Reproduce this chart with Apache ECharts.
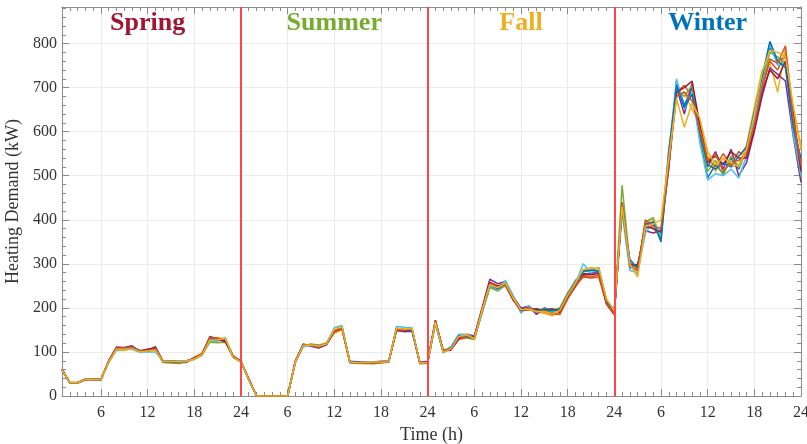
<!DOCTYPE html>
<html>
<head>
<meta charset="utf-8">
<script src="https://cdn.jsdelivr.net/npm/echarts@6/dist/echarts.min.js"></script>
<style>
  html, body { margin: 0; padding: 0; background: #ffffff; }
  #chart { width: 807px; height: 444px; }
</style>
</head>
<body>
<div id="chart"></div>
<script>
// Hourly heating demand (kW) for ten scenarios, one typical day per season.
const spring = [
  [60, 30, 30, 38, 38, 37, 78, 108, 108, 110, 103, 104, 106, 79, 78, 77, 79, 85, 94, 128, 126, 128, 88, 79],
  [59, 30, 29, 37, 38, 36, 80, 110, 105, 112, 101, 105, 110, 78, 76, 76, 77, 86, 96, 132, 130, 125, 90, 78],
  [60, 31, 30, 38, 37, 37, 77, 104, 103, 107, 100, 104, 108, 79, 77, 75, 76, 88, 97, 131, 132, 130, 88, 80],
  [61, 30, 30, 39, 38, 38, 79, 111, 110, 114, 102, 103, 112, 77, 80, 79, 80, 85, 95, 135, 130, 126, 91, 77],
  [60, 29, 31, 38, 39, 37, 76, 106, 107, 109, 104, 102, 105, 76, 75, 74, 78, 86, 93, 122, 121, 122, 89, 80],
  [59, 30, 30, 38, 38, 37, 77, 104, 106, 106, 99, 100, 100, 80, 79, 79, 80, 83, 92, 125, 124, 133, 87, 77],
  [60, 30, 30, 37, 38, 37, 79, 109, 107, 111, 102, 106, 109, 78, 78, 76, 77, 87, 95, 130, 128, 123, 90, 79],
  [60, 30, 30, 38, 38, 37, 78, 107, 108, 110, 103, 102, 106, 78, 79, 78, 78, 84, 94, 129, 129, 128, 89, 78],
  [61, 31, 30, 38, 37, 38, 79, 109, 109, 111, 102, 103, 108, 79, 78, 77, 78, 85, 96, 133, 131, 129, 90, 79],
  [60, 30, 30, 38, 38, 37, 77, 106, 106, 108, 100, 102, 104, 78, 79, 78, 79, 84, 93, 127, 127, 131, 87, 78]
];
const summer = [
  [38, 0, 0, 0, 0, 0, 78, 115, 116, 112, 118, 150, 156, 77, 76, 75, 76, 77, 78, 152, 150, 151, 75, 76],
  [39, 0, 0, 0, 0, 0, 80, 118, 114, 110, 116, 145, 152, 78, 77, 76, 77, 78, 79, 148, 147, 148, 76, 77],
  [38, 0, 0, 0, 0, 0, 77, 113, 117, 114, 121, 142, 150, 76, 75, 74, 75, 76, 77, 150, 148, 152, 74, 75],
  [40, 0, 0, 0, 0, 0, 79, 117, 113, 109, 117, 146, 154, 79, 78, 77, 77, 79, 79, 149, 146, 147, 76, 78],
  [37, 0, 0, 0, 0, 0, 78, 114, 118, 116, 120, 150, 158, 76, 74, 74, 73, 75, 77, 153, 151, 150, 75, 76],
  [38, 0, 0, 0, 0, 0, 76, 112, 115, 111, 119, 155, 160, 75, 76, 77, 78, 77, 76, 158, 156, 155, 73, 74],
  [39, 0, 0, 0, 0, 0, 79, 117, 115, 111, 117, 147, 153, 77, 77, 75, 76, 78, 78, 151, 149, 149, 76, 77],
  [38, 0, 0, 0, 0, 0, 78, 116, 116, 113, 118, 149, 155, 78, 76, 76, 76, 77, 78, 153, 151, 150, 75, 76],
  [38, 0, 0, 0, 0, 0, 77, 114, 117, 112, 119, 148, 154, 76, 75, 75, 75, 76, 77, 151, 150, 152, 74, 75],
  [38, 0, 0, 0, 0, 0, 78, 115, 116, 113, 118, 151, 157, 77, 76, 76, 77, 77, 78, 154, 152, 153, 75, 76]
];
const fall = [
  [165, 100, 110, 133, 138, 130, 192, 252, 250, 252, 220, 192, 202, 188, 196, 190, 197, 232, 262, 278, 276, 285, 216, 190],
  [170, 103, 106, 128, 132, 128, 190, 248, 242, 250, 218, 198, 200, 195, 190, 185, 186, 225, 250, 270, 268, 270, 210, 188],
  [168, 99, 108, 136, 135, 128, 198, 258, 248, 258, 225, 193, 196, 190, 188, 182, 192, 230, 258, 285, 292, 288, 216, 195],
  [172, 102, 104, 130, 140, 136, 200, 265, 255, 260, 225, 200, 204, 185, 200, 195, 198, 228, 252, 274, 280, 282, 212, 193],
  [166, 98, 110, 138, 134, 129, 188, 246, 238, 252, 222, 196, 198, 194, 198, 196, 200, 234, 260, 282, 284, 292, 218, 190],
  [163, 100, 112, 140, 140, 133, 190, 250, 242, 262, 228, 188, 205, 190, 195, 193, 192, 226, 255, 300, 280, 286, 215, 196],
  [171, 104, 107, 132, 136, 134, 196, 258, 250, 254, 218, 194, 196, 198, 194, 198, 190, 222, 248, 276, 275, 278, 208, 185],
  [167, 101, 109, 137, 135, 131, 194, 254, 244, 256, 224, 197, 200, 193, 197, 194, 196, 231, 258, 283, 286, 284, 215, 194],
  [169, 102, 108, 134, 137, 132, 197, 255, 247, 255, 219, 195, 201, 191, 193, 188, 185, 220, 250, 272, 270, 275, 210, 187],
  [168, 100, 107, 135, 139, 130, 193, 253, 246, 257, 223, 196, 197, 192, 192, 187, 194, 229, 257, 288, 290, 290, 220, 194]
];
const winter = [
  [440, 300, 292, 380, 390, 370, 520, 715, 660, 700, 585, 495, 525, 505, 540, 515, 560, 640, 730, 790, 760, 770, 600, 505],
  [425, 295, 285, 395, 380, 362, 560, 690, 705, 680, 610, 540, 520, 550, 525, 555, 540, 610, 700, 760, 740, 780, 620, 530],
  [420, 305, 275, 395, 400, 360, 545, 680, 690, 650, 620, 545, 510, 540, 520, 525, 570, 655, 740, 755, 690, 790, 650, 560],
  [435, 290, 300, 375, 370, 375, 515, 700, 640, 710, 595, 520, 555, 515, 560, 500, 530, 600, 680, 745, 730, 715, 590, 485],
  [478, 300, 290, 395, 405, 355, 530, 695, 680, 705, 600, 510, 535, 500, 545, 520, 555, 625, 710, 780, 770, 750, 625, 515],
  [415, 285, 280, 370, 395, 365, 550, 720, 650, 690, 575, 490, 505, 500, 515, 495, 545, 630, 720, 800, 750, 760, 595, 500],
  [430, 300, 295, 385, 380, 372, 535, 690, 700, 715, 615, 530, 545, 525, 555, 540, 540, 605, 690, 740, 720, 760, 640, 510],
  [425, 310, 290, 390, 395, 350, 550, 705, 655, 685, 600, 525, 515, 530, 520, 545, 565, 645, 725, 805, 760, 745, 610, 540],
  [440, 295, 285, 400, 385, 380, 525, 680, 690, 670, 605, 535, 550, 510, 530, 535, 550, 615, 700, 765, 755, 795, 630, 525],
  [430, 300, 270, 385, 390, 400, 540, 675, 610, 665, 630, 555, 525, 540, 530, 520, 560, 640, 735, 785, 780, 770, 660, 565]
];

const seasonNames = ['Spring', 'Summer', 'Fall', 'Winter'];
const seasonColors = ['#A2142F', '#77AC30', '#EDB120', '#0072BD'];
const seasonCenters = [12, 36, 60, 84];
const seasonTitleLevel = 845;
const seasonBounds = [24, 48, 72];
const hourTicks = [6, 12, 18, 24, 30, 36, 42, 48, 54, 60, 66, 72, 78, 84, 90, 96];
const demandTicks = [0, 100, 200, 300, 400, 500, 600, 700, 800];
const lineColors = ['#0072BD', '#D95319', '#EDB120', '#7E2F8E', '#77AC30', '#4DBEEE', '#A2142F'];

const X_MIN = 1, X_MAX = 96, Y_MIN = 0, Y_MAX = 883;
const serif = 'Liberation Serif, Times New Roman, serif';
const axisGray = '#8a8a8a';

const hourMinor = [];
for (let h = 1; h <= 96; h++) hourMinor.push(h);
const demandMinor = [];
for (let v = 20; v <= 880; v += 20) demandMinor.push(v);

// Series: each scenario strung across the four seasonal days.
const series = [];
for (let s = 0; s < spring.length; s++) {
  const values = spring[s].concat(summer[s], fall[s], winter[s]);
  series.push({
    type: 'line',
    name: 'Scenario ' + (s + 1),
    data: values.map((v, i) => [i + 1, v]),
    showSymbol: false,
    symbol: 'none',
    lineStyle: { width: 1.5, color: lineColors[s % lineColors.length] },
    itemStyle: { color: lineColors[s % lineColors.length] },
    z: 3
  });
}

// Season separators
series.push({
  type: 'line',
  data: [],
  z: 5,
  markLine: {
    silent: true,
    symbol: 'none',
    label: { show: false },
    lineStyle: { color: '#ff4545', width: 2, type: 'solid', opacity: 1 },
    data: seasonBounds.map(b => ({ xAxis: b }))
  }
});

// Season titles
series.push({
  type: 'scatter',
  symbolSize: 0,
  z: 6,
  itemStyle: { opacity: 1 },
  data: seasonNames.map((n, i) => ({
    value: [seasonCenters[i], seasonTitleLevel],
    label: {
      show: true,
      position: 'inside',
      formatter: n,
      color: seasonColors[i],
      opacity: 1,
      fontFamily: serif,
      fontWeight: 'bold',
      fontSize: 26
    }
  }))
});

function xAxisDef(pos, major, withLabels) {
  return {
    type: 'value', min: X_MIN, max: X_MAX, position: pos,
    axisLine: { show: major, onZero: false, lineStyle: { color: axisGray, width: 1 } },
    axisTick: {
      show: true, inside: true, length: major ? 7 : 4,
      customValues: major ? hourTicks : hourMinor,
      lineStyle: { color: axisGray, width: 1 }
    },
    axisLabel: withLabels ? {
      show: true, customValues: hourTicks,
      formatter: v => String(((v - 1) % 24) + 1),
      fontFamily: serif, fontSize: 16, color: '#333333', margin: 9
    } : { show: false },
    splitLine: withLabels ? { show: true, lineStyle: { color: '#ebebeb', width: 1 } } : { show: false },
    name: withLabels ? 'Time (h)' : '',
    nameLocation: 'middle', nameGap: 28,
    nameTextStyle: { fontFamily: serif, fontSize: 18, color: '#333333' }
  };
}
function yAxisDef(pos, major, withLabels) {
  return {
    type: 'value', min: Y_MIN, max: Y_MAX, position: pos,
    axisLine: { show: major, onZero: false, lineStyle: { color: axisGray, width: 1 } },
    axisTick: {
      show: true, inside: true, length: major ? 7 : 4,
      customValues: major ? demandTicks : demandMinor,
      lineStyle: { color: axisGray, width: 1 }
    },
    axisLabel: withLabels ? {
      show: true, customValues: demandTicks,
      fontFamily: serif, fontSize: 16, color: '#333333', margin: 5
    } : { show: false },
    splitLine: withLabels ? { show: true, lineStyle: { color: '#ebebeb', width: 1 } } : { show: false },
    name: withLabels ? 'Heating Demand (kW)' : '',
    nameLocation: 'middle', nameGap: 32,
    nameTextStyle: { fontFamily: serif, fontSize: 18, color: '#333333' }
  };
}

const chart = echarts.init(document.getElementById('chart'), null, { renderer: 'canvas' });
chart.setOption({
  animation: false,
  backgroundColor: '#ffffff',
  grid: { left: 62, right: 6, top: 7, bottom: 48, containLabel: false, outerBoundsMode: 'none' },
  xAxis: [
    xAxisDef('bottom', true, true),
    xAxisDef('bottom', false, false),
    xAxisDef('top', true, false),
    xAxisDef('top', false, false)
  ],
  yAxis: [
    yAxisDef('left', true, true),
    yAxisDef('left', false, false),
    yAxisDef('right', true, false),
    yAxisDef('right', false, false)
  ],
  series: series
});
</script>
</body>
</html>
